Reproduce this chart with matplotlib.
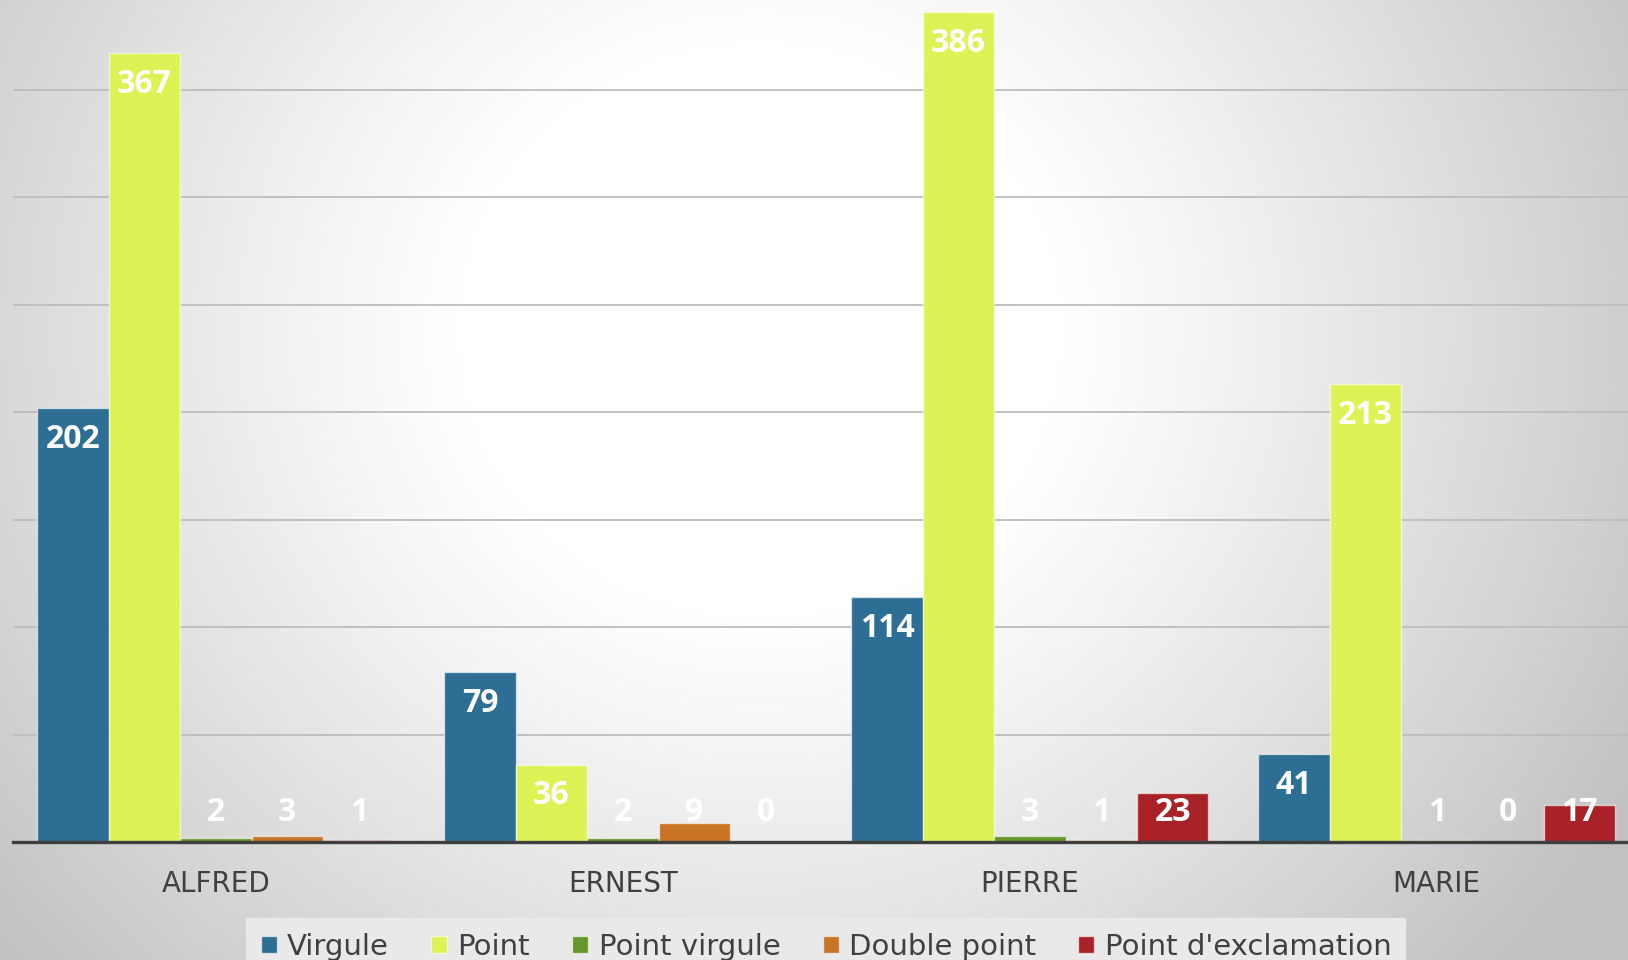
import numpy as np
import matplotlib
matplotlib.use("Agg")
import matplotlib.pyplot as plt
from matplotlib.patches import Patch

categories = ["ALFRED", "ERNEST", "PIERRE", "MARIE"]
series_names = ["Virgule", "Point", "Point virgule", "Double point", "Point d'exclamation"]
virgule = [202, 79, 114, 41]
point = [367, 36, 386, 213]
point_virgule = [2, 2, 3, 1]
double_point = [3, 9, 1, 0]
exclamation = [1, 0, 23, 17]
series_values = [virgule, point, point_virgule, double_point, exclamation]
colors = ["#2D6E94", "#DEF256", "#66962A", "#C87424", "#A82227"]

W, H, DPI = 1628, 960, 100
fig = plt.figure(figsize=(W / DPI, H / DPI), dpi=DPI)

# radial gradient background
bg = fig.add_axes([0, 0, 1, 1], zorder=-10)
yy, xx = np.mgrid[0:H, 0:W]
cx, cy = 760, 330
d = np.sqrt((xx - cx) ** 2 + ((yy - cy) * 1.05) ** 2)
t = np.clip((d - 300) / 700, 0, 1)
val = 1.0 - 0.24 * t ** 1.1
bg.imshow(np.dstack([val, val, val]), extent=[0, 1, 0, 1], aspect="auto", origin="upper")
bg.axis("off")

ax = fig.add_axes([12.5 / W, 118 / H, 1 - 12.5 / W, 1 - 118 / H])
ax.patch.set_alpha(0)

n = len(series_values)
bw = 0.1755
x = np.arange(len(categories))
for i, (name, vals, c) in enumerate(zip(series_names, series_values, colors)):
    pos = x + (i - (n - 1) / 2) * bw
    ax.bar(pos, vals, width=bw, color=c, edgecolor=(1, 1, 1, 0.6), linewidth=1.0, zorder=3, label=name)
    for p, v in zip(pos, vals):
        ly = max(v - 14.5, 13.5)
        ax.text(p, ly, str(v), ha="center", va="center", color="white",
                fontsize=23, fontweight="bold", family="Open Sans", zorder=5)

ax.set_xlim(-0.5, 3.47)
ax.set_ylim(0, 391.8)
ax.set_yticks(np.arange(0, 351, 50))
ax.yaxis.grid(True, color="#bdbdbd", linewidth=1.3, zorder=0)
ax.tick_params(axis="y", left=False, labelleft=False)
ax.set_xticks(x)
ax.set_xticklabels(categories, family="Liberation Sans Narrow", fontsize=20, color="#404040")
ax.tick_params(axis="x", length=0, pad=20)
for s in ["top", "right", "left"]:
    ax.spines[s].set_visible(False)
ax.spines["bottom"].set_color("#3f3f3f")
ax.spines["bottom"].set_linewidth(2.4)
ax.spines["bottom"].set_zorder(6)

handles = [Patch(facecolor=c, edgecolor=(1, 1, 1, 0.6)) for c in colors]
leg = fig.legend(handles, series_names, loc="center", bbox_to_anchor=(826 / W, 1 - 947 / H),
                 ncol=5, frameon=True, fancybox=False, handlelength=0.55, handleheight=0.55,
                 handletextpad=0.35, columnspacing=1.45, borderpad=0.5, borderaxespad=0,
                 prop={"family": "Liberation Sans Narrow", "size": 21})
leg.get_frame().set_facecolor("#e9e9e9")
leg.get_frame().set_edgecolor("none")
leg.get_frame().set_alpha(1)
for tx in leg.get_texts():
    tx.set_color("#404040")

fig.savefig("out.png", dpi=DPI)
